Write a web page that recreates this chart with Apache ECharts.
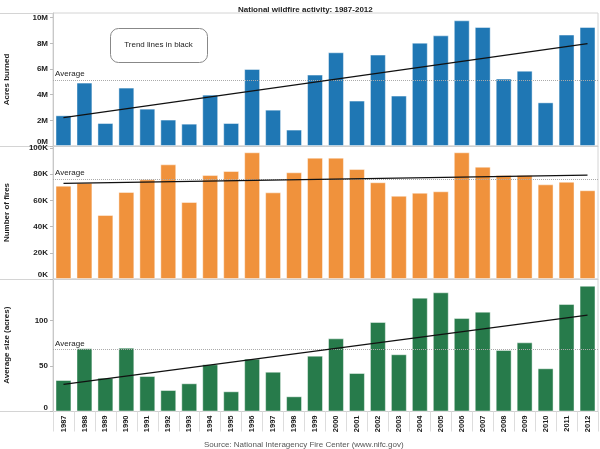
<!DOCTYPE html>
<html><head><meta charset="utf-8">
<script src="https://cdn.jsdelivr.net/npm/echarts@6/dist/echarts.min.js"></script>
<style>html,body{margin:0;padding:0;background:#fff}#c{width:600px;height:449px}</style>
</head><body><div id="c"></div>
<script>
const years = ['1987','1988','1989','1990','1991','1992','1993','1994','1995','1996','1997','1998','1999','2000','2001','2002','2003','2004','2005','2006','2007','2008','2009','2010','2011','2012'];
// Acres burned (millions)
const acresBurnedM = [2.39,4.94,1.79,4.55,2.91,2.06,1.74,4.00,1.79,6.00,2.83,1.28,5.56,7.30,3.54,7.12,3.93,8.05,8.62,9.79,9.27,5.25,5.87,3.40,8.68,9.27];
// Number of fires (thousands)
const fireCountK = [71.3,73.5,48.9,66.5,76.2,87.6,58.8,79.4,82.5,96.8,66.2,81.5,92.7,92.7,84.0,73.9,63.6,65.9,67.0,96.8,85.8,79.4,79.4,72.3,74.3,67.8];
// Average fire size (acres)
const avgSizeAcres = [34.6,69.5,37.1,70.1,39.0,23.6,31.0,51.9,22.2,58.0,43.7,16.7,61.3,80.4,42.3,98.4,62.9,125.1,131.0,102.7,109.7,67.6,76.0,47.5,118.1,138.2];
// Reference lines
const acresAverage = 5.12;
const firesAverage = 76.2;
const sizeAverage = 67.9;
const acresTrend = [2.21, 7.98];   // at first and last year
const firesTrend = [73.1, 79.4];
const sizeTrend = [29.9, 106.0];
// Tick values
const acresTicks = [0,2,4,6,8,10];
const firesTicks = [0,20,40,60,80,100];
const sizeTicks = [0,50,100];

const FONT = "'Liberation Sans', Arial, sans-serif";
const chart = echarts.init(document.getElementById('c'));

function yAx(gi, name, max, ticks, suffix) {
  return {
    type:'value', gridIndex:gi, min:0, max:max,
    name:name, nameLocation:'middle', nameGap:42,
    nameTextStyle:{fontFamily:FONT, fontSize:8, fontWeight:'bold', color:'#222'},
    axisLine:{show:true, lineStyle:{color:'#c8c8c8'}},
    axisTick:{show:true, length:3, customValues:ticks, lineStyle:{color:'#bbb'}},
    splitLine:{show:false},
    axisLabel:{
      customValues:ticks, margin:5, fontFamily:FONT, fontSize:8, fontWeight:'bold', color:'#222',
      formatter:function(v){ const s = v + suffix; return v === 0 ? '{z|' + s + '}' : s; },
      rich:{z:{fontFamily:FONT, fontSize:8, fontWeight:'bold', color:'#222', padding:[0,0,8,0]}}
    }
  };
}
function xAx(gi) {
  const last = gi === 2;
  return {
    type:'category', gridIndex:gi, data:years,
    axisLine:{show:true, lineStyle:{color:'#d0d0d0'}},
    axisTick:{show:last, length:20, lineStyle:{color:'#ddd'}},
    axisLabel:{show:last, rotate:90, margin:4, fontFamily:FONT, fontSize:7.5, fontWeight:'bold', color:'#222'},
    splitLine:{show:false}
  };
}
function barSeries(gi, data, color, avg, trend) {
  return {
    type:'bar', xAxisIndex:gi, yAxisIndex:gi, data:data, barCategoryGap:'24%',
    itemStyle:{color:color, borderColor:'rgba(255,255,255,0.45)', borderWidth:1},
    markLine:{
      silent:true, symbol:'none', animation:false,
      data:[
        {yAxis:avg, lineStyle:{type:'dotted', color:'#aaa', width:1},
         label:{show:true, position:'insideStartTop', formatter:'Average', distance:[2,2],
                fontFamily:FONT, fontSize:8, color:'#222'}},
        [{coord:[years[0], trend[0]], lineStyle:{type:'solid', color:'#111', width:1.3}, label:{show:false}},
         {coord:[years[years.length-1], trend[1]]}]
      ]
    }
  };
}
function gridAt(top, height) {
  return {left:53, right:2, top:top, height:height, show:true, borderColor:'#d4d4d4', borderWidth:1,
          containLabel:false, outerBoundsMode:'none'};
}

const option = {
  animation:false,
  textStyle:{fontFamily:FONT},
  title:[
    {text:'National wildfire activity: 1987-2012', left:233, top:1,
     textStyle:{fontFamily:FONT, fontSize:8, fontWeight:'bold', color:'#222'}},
    {text:'Source: National Interagency Fire Center (www.nifc.gov)', left:199, top:436,
     textStyle:{fontFamily:FONT, fontSize:8, fontWeight:'normal', color:'#555'}}
  ],
  grid:[gridAt(13, 133), gridAt(146, 133), gridAt(279, 132.5)],
  xAxis:[xAx(0), xAx(1), xAx(2)],
  yAxis:[
    yAx(0, 'Acres burned', 10.36, acresTicks, 'M'),
    yAx(1, 'Number of fires', 101.6, firesTicks, 'K'),
    yAx(2, 'Average size (acres)', 145.6, sizeTicks, '')
  ],
  series:[
    barSeries(0, acresBurnedM, '#1f77b4', acresAverage, acresTrend),
    barSeries(1, fireCountK, '#f0923c', firesAverage, firesTrend),
    barSeries(2, avgSizeAcres, '#277b4b', sizeAverage, sizeTrend)
  ],
  graphic:[
    {type:'line', shape:{x1:0, y1:13.5, x2:53, y2:13.5}, style:{stroke:'#d4d4d4', lineWidth:1}, silent:true},
    {type:'line', shape:{x1:0, y1:146.5, x2:53, y2:146.5}, style:{stroke:'#d4d4d4', lineWidth:1}, silent:true},
    {type:'line', shape:{x1:0, y1:279.5, x2:53, y2:279.5}, style:{stroke:'#d4d4d4', lineWidth:1}, silent:true},
    {type:'line', shape:{x1:0, y1:411.5, x2:53, y2:411.5}, style:{stroke:'#d4d4d4', lineWidth:1}, silent:true},
    {type:'rect', left:110, top:28, shape:{width:97, height:34, r:8},
     style:{fill:'#fff', stroke:'#888', lineWidth:1}, z:100},
    {type:'text', z:101,
     style:{text:'Trend lines in black', x:158.5, y:45, align:'center', verticalAlign:'middle',
            font:"8px 'Liberation Sans', Arial, sans-serif", fill:'#222'}}
  ]
};
chart.setOption(option);
</script>
</body></html>
